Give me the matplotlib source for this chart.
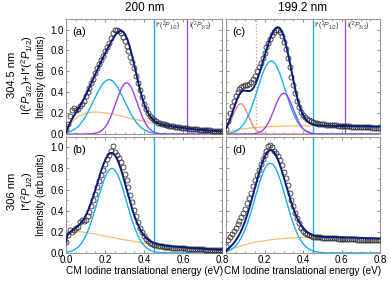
import numpy as np
import matplotlib
matplotlib.use("Agg")
import matplotlib.pyplot as plt
from matplotlib.ticker import MultipleLocator

plt.rcParams['font.family'] = ['Liberation Sans', 'DejaVu Sans']
plt.rcParams['mathtext.fontset'] = 'custom'
plt.rcParams['mathtext.rm'] = 'Liberation Sans'
plt.rcParams['mathtext.it'] = 'Liberation Sans:italic'

# energie (eV) dos pontos experimentais
energia = np.round(np.arange(81) * 0.01, 2)

dados_a = [0.05, 0.10, 0.17, 0.23, 0.25, 0.23, 0.24, 0.27, 0.29, 0.32,
           0.36, 0.40, 0.44, 0.49, 0.53, 0.58, 0.63, 0.67, 0.71, 0.75,
           0.79, 0.83, 0.87, 0.92, 0.97, 1.00, 1.00, 0.99, 0.97, 0.93,
           0.89, 0.84, 0.79, 0.74, 0.69, 0.63, 0.56, 0.49, 0.42, 0.35,
           0.29, 0.24, 0.20, 0.17, 0.15, 0.13, 0.12, 0.11, 0.105, 0.10,
           0.095, 0.09, 0.085, 0.08, 0.077, 0.073, 0.07, 0.066, 0.063, 0.06,
           0.058, 0.055, 0.053, 0.051, 0.049, 0.047, 0.045, 0.044, 0.042, 0.040,
           0.039, 0.038, 0.036, 0.035, 0.034, 0.033, 0.032, 0.031, 0.030, 0.029,
           0.028]
dados_b = [0.10, 0.17, 0.22, 0.20, 0.22, 0.24, 0.25, 0.29, 0.31, 0.30,
           0.31, 0.35, 0.39, 0.44, 0.50, 0.56, 0.62, 0.68, 0.74, 0.79,
           0.84, 0.89, 0.93, 0.97, 1.01, 0.96, 0.93, 0.90, 0.86, 0.81,
           0.75, 0.69, 0.62, 0.55, 0.48, 0.41, 0.35, 0.29, 0.24, 0.20,
           0.16, 0.13, 0.11, 0.095, 0.085, 0.078, 0.072, 0.068, 0.064, 0.061,
           0.058, 0.056, 0.054, 0.052, 0.050, 0.048, 0.047, 0.046, 0.045, 0.044,
           0.043, 0.042, 0.041, 0.040, 0.039, 0.038, 0.037, 0.036, 0.035, 0.034,
           0.033, 0.032, 0.031, 0.030, 0.030, 0.029, 0.028, 0.028, 0.027, 0.026,
           0.026]
dados_c = [0.05, 0.12, 0.20, 0.27, 0.32, 0.36, 0.40, 0.43, 0.45, 0.46,
           0.47, 0.47, 0.48, 0.50, 0.53, 0.56, 0.60, 0.64, 0.68, 0.73,
           0.78, 0.83, 0.87, 0.91, 0.95, 0.98, 1.00, 1.00, 0.98, 0.94,
           0.88, 0.81, 0.73, 0.64, 0.55, 0.47, 0.39, 0.32, 0.26, 0.21,
           0.18, 0.16, 0.14, 0.13, 0.12, 0.115, 0.11, 0.105, 0.10, 0.098,
           0.095, 0.093, 0.091, 0.089, 0.087, 0.085, 0.083, 0.082, 0.080, 0.079,
           0.078, 0.076, 0.075, 0.074, 0.073, 0.072, 0.071, 0.070, 0.069, 0.068,
           0.067, 0.066, 0.065, 0.064, 0.064, 0.063, 0.062, 0.061, 0.061, 0.060,
           0.060]
dados_d = [0.07, 0.12, 0.15, 0.18, 0.21, 0.24, 0.27, 0.30, 0.34, 0.38,
           0.42, 0.47, 0.52, 0.57, 0.63, 0.69, 0.74, 0.79, 0.84, 0.89,
           0.93, 0.97, 1.01, 1.02, 1.00, 0.97, 0.95, 0.92, 0.88, 0.83,
           0.77, 0.71, 0.64, 0.57, 0.50, 0.44, 0.38, 0.33, 0.28, 0.24,
           0.21, 0.19, 0.175, 0.165, 0.16, 0.155, 0.152, 0.15, 0.148, 0.146,
           0.145, 0.143, 0.142, 0.141, 0.140, 0.139, 0.138, 0.137, 0.136, 0.135,
           0.134, 0.133, 0.132, 0.131, 0.130, 0.130, 0.129, 0.128, 0.127, 0.127,
           0.126, 0.125, 0.125, 0.124, 0.123, 0.123, 0.122, 0.122, 0.121, 0.120,
           0.120]

# componentes do ajuste: (centro, largura, amplitude)
gauss_a = {'azul': (0.22, 0.08, 0.52), 'roxo': (0.31, 0.055, 0.49)}
gauss_b = {'azul': (0.235, 0.075, 0.80)}
gauss_c = {'vermelho': (0.076, 0.04, 0.29), 'azul': (0.235, 0.072, 0.70),
           'roxo': (0.30, 0.05, 0.39)}
gauss_d = {'azul': (0.23, 0.08, 0.85)}
# fundo largo: (pico, amplitude, forma)
fundo_a = (0.15, 0.21, 0.8)
fundo_b = (0.06, 0.20, 0.2)
fundo_c = (0.45, 0.08, 0.6)
fundo_d = (0.50, 0.15, 0.8)

linha_Istar = 0.45
linha_I = 0.62
linha_verm = 0.156

cores = {'azul': '#1ab0f0', 'roxo': '#a040f0', 'vermelho': '#f08a80',
         'laranja': '#f5bd6a', 'ajuste': '#0a1a80'}


def gauss(x, c, s, a):
    return a * np.exp(-(x - c) ** 2 / (2 * s ** 2))


def fundo(x, p, a, k):
    return a * (x / p) ** k * np.exp(k * (1 - x / p))


fig = plt.figure(figsize=(3.91, 2.81), dpi=100)
pos = {'a': [0.169, 0.523, 0.399, 0.409], 'c': [0.578, 0.523, 0.394, 0.409],
       'b': [0.169, 0.100, 0.399, 0.413], 'd': [0.578, 0.100, 0.394, 0.413]}
paineis = [('a', dados_a, gauss_a, fundo_a, True),
           ('c', dados_c, gauss_c, fundo_c, True),
           ('b', dados_b, gauss_b, fundo_b, False),
           ('d', dados_d, gauss_d, fundo_d, False)]

x = np.linspace(0.0005, 0.8, 500)
for nome, dados, comps, fp, topo in paineis:
    ax = fig.add_axes(pos[nome])
    bg = fundo(x, *fp)
    total = bg.copy()
    ax.plot(x, bg, color=cores['laranja'], lw=0.9, zorder=2)
    for cor, par in comps.items():
        g = gauss(x, *par)
        total += g
        ax.plot(x, g, color=cores[cor], lw=1.0, zorder=2)
    ax.axvline(linha_Istar, color=cores['azul'], lw=1.0, zorder=1)
    if topo:
        ax.axvline(linha_I, color=cores['roxo'], lw=0.9, zorder=1)
        ax.text(linha_Istar + 0.008, 1.03, r'I*($^2P_{1/2}$)', fontsize=5,
                color='#333333', va='center')
        ax.text(linha_I + 0.008, 1.03, r'I($^2P_{3/2}$)', fontsize=5,
                color='#333333', va='center')
    if nome == 'c':
        ax.axvline(linha_verm, color=cores['vermelho'], lw=0.9, ls=':', zorder=1)
    ax.plot(energia, dados, 'o', ms=3.6, mfc='none', mec='#333333', mew=0.6,
            zorder=3)
    ax.plot(x, total, color=cores['ajuste'], lw=1.4, zorder=4)
    ax.set_xlim(0, 0.8)
    ax.set_ylim(0, 1.1)
    ax.xaxis.set_major_locator(MultipleLocator(0.2))
    ax.xaxis.set_minor_locator(MultipleLocator(0.05))
    ax.yaxis.set_major_locator(MultipleLocator(0.2))
    ax.yaxis.set_minor_locator(MultipleLocator(0.1))
    ax.tick_params(which='both', direction='in', top=True, right=True,
                   labelsize=7, color='#777777', pad=1.5)
    ax.tick_params(which='major', length=2.5, width=0.6)
    ax.tick_params(which='minor', length=1.5, width=0.5)
    for sp in ax.spines.values():
        sp.set_color('#999999')
        sp.set_linewidth(0.8)
    ax.text(0.04, 0.93, '(%s)' % nome, transform=ax.transAxes, fontsize=8,
            va='top')
    if topo:
        ax.set_xticklabels([])
    if nome in ('c', 'd'):
        ax.set_yticklabels([])
    if nome == 'd':
        ax.set_xticks([0.2, 0.4, 0.6, 0.8])
    if nome in ('b', 'd'):
        ax.set_xlabel('CM Iodine translational energy (eV)', fontsize=7.2,
                      labelpad=1)

fig.text(0.371, 0.97, '200 nm', ha='center', va='center', fontsize=8.5)
fig.text(0.775, 0.97, '199.2 nm', ha='center', va='center', fontsize=8.5)
for yc in (0.728, 0.306):
    fig.text(0.104, yc, 'Intensity (arb.units)', rotation=90, ha='center',
             va='center', fontsize=7)
fig.text(0.031, 0.733, '304.5 nm', rotation=90, ha='center', va='center',
         fontsize=8)
fig.text(0.070, 0.733, r'I($^2P_{3/2}$)+I*($^2P_{1/2}$)', rotation=90,
         ha='center', va='center', fontsize=8)
fig.text(0.031, 0.32, '306 nm', rotation=90, ha='center', va='center',
         fontsize=8)
fig.text(0.070, 0.32, r'I*($^2P_{1/2}$)', rotation=90, ha='center',
         va='center', fontsize=8)

fig.savefig('out.png', dpi=100)
